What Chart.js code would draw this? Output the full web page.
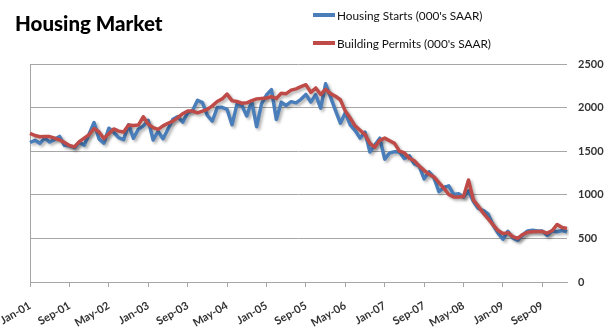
<!DOCTYPE html>
<html>
<head>
<meta charset="utf-8">
<script src="https://cdn.jsdelivr.net/npm/chart.js@4.4.0/dist/chart.umd.min.js"></script>
<style>
  html, body { margin: 0; padding: 0; background: #fff; }
  #wrap { position: relative; width: 610px; height: 331px; }
  #title { position: absolute; left: 15px; top: 11px; font: 900 20.5px Lato, sans-serif; color: #000; }
  #legend { position: absolute; left: 313px; top: 1px; font: 11.8px Lato, sans-serif; color: #111; }
  .item { display: flex; align-items: center; height: 28px; }
  .swatch { width: 22px; height: 4px; margin-right: 2px; }
</style>
</head>
<body>
<div id="wrap">
  <canvas id="chart" width="610" height="331"></canvas>
  <div id="title">Housing Market</div>
  <div id="legend"></div>
</div>
<script>
// monthly, Jan-01 .. Feb-10
var monthNames = ['Jan', 'Feb', 'Mar', 'Apr', 'May', 'Jun', 'Jul', 'Aug', 'Sep', 'Oct', 'Nov', 'Dec'];
var years = ['01', '02', '03', '04', '05', '06', '07', '08', '09', '10'];
var tickEvery = 8;

var housingStarts = [
  1600, 1625, 1590, 1649, 1605, 1636, 1670, 1567, 1562, 1540, 1602, 1568,
  1698, 1829, 1642, 1592, 1764, 1717, 1655, 1633, 1804, 1648, 1753, 1788,
  1853, 1629, 1726, 1643, 1751, 1867, 1897, 1833, 1939, 1967, 2083, 2057,
  1911, 1846, 1998, 2003, 1981, 1803, 2035, 2024, 1905, 2072, 1782, 2042,
  2144, 2207, 1864, 2061, 2025, 2068, 2054, 2095, 2151, 2065, 2147, 1994,
  2273, 2119, 1969, 1821, 1942, 1802, 1737, 1650, 1720, 1491, 1570, 1649,
  1409, 1480, 1495, 1490, 1415, 1448, 1354, 1330, 1183, 1264, 1197, 1037,
  1084, 1103, 1005, 1013, 973, 1046, 923, 844, 820, 777, 652, 560,
  490, 582, 505, 478, 540, 585, 594, 586, 585, 534, 588, 576,
  591, 575
];

var buildingPermits = [
  1705, 1680, 1665, 1670, 1668, 1650, 1630, 1600, 1565, 1550, 1610, 1650,
  1690, 1760, 1720, 1645, 1700, 1755, 1730, 1720, 1800, 1795, 1800, 1895,
  1810, 1770, 1750, 1790, 1820, 1845, 1885, 1930, 1960, 1960, 1940, 1960,
  1980, 2020, 2070, 2100, 2155, 2080, 2070, 2050, 2055, 2080, 2100, 2105,
  2110, 2125, 2105, 2165, 2160, 2200, 2215, 2240, 2263, 2175, 2225, 2150,
  2210, 2160, 2130, 2090, 1960, 1880, 1790, 1740, 1690, 1590, 1545, 1625,
  1650, 1620, 1590, 1500, 1480, 1420, 1390, 1330, 1280, 1235, 1205, 1140,
  1075, 1005, 975, 975, 980, 1170, 940, 870, 790, 725, 655, 590,
  555, 565, 520, 500, 545, 570, 575, 580, 578, 560, 590, 660,
  625, 615
];

var months = [];
for (var i = 0; i < housingStarts.length; i++) {
  months.push(monthNames[i % 12] + '-' + years[Math.floor(i / 12)]);
}

var axisFont = { family: 'Lato', weight: 'bold', size: 11 };
var gridGray = '#a6a6a6';

// soft drop shadow under the lines, like the Excel original
var lineShadow = {
  id: 'lineShadow',
  beforeDatasetDraw: function(chart) {
    var ctx = chart.ctx;
    ctx.save();
    ctx.shadowColor = 'rgba(0,0,0,0.3)';
    ctx.shadowBlur = 3;
    ctx.shadowOffsetX = 2;
    ctx.shadowOffsetY = 2;
  },
  afterDatasetDraw: function(chart) {
    chart.ctx.restore();
  }
};

var chart = new Chart(document.getElementById('chart'), {
  type: 'line',
  data: {
    labels: months,
    datasets: [{
      label: "Housing Starts (000's SAAR)",
      data: housingStarts,
      borderColor: '#4a7ebb',
      order: 2
    }, {
      label: "Building Permits (000's SAAR)",
      data: buildingPermits,
      borderColor: '#be4b48',
      order: 1
    }]
  },
  options: {
    responsive: false,
    animation: false,
    devicePixelRatio: 1,
    elements: {
      point: { radius: 0 },
      line: { borderWidth: 3.5, tension: 0, borderJoinStyle: 'round', fill: false }
    },
    layout: { padding: { top: 64, right: 0, bottom: 0, left: 30 } },
    plugins: {
      legend: { display: false },
      tooltip: { enabled: false }
    },
    scales: {
      x: {
        offset: false,
        grid: {
          color: function(c) { return c.index === 0 ? gridGray : 'transparent'; },
          tickColor: gridGray,
          tickLength: 5
        },
        border: { color: gridGray },
        ticks: {
          autoSkip: false,
          minRotation: 30,
          maxRotation: 30,
          padding: 12,
          color: '#333',
          font: axisFont,
          callback: function(v, i) {
            return i % tickEvery === 0 ? this.getLabelForValue(v) : null;
          }
        },
        afterFit: function(scale) {
          scale.height = 49;
          scale.paddingLeft = 0;
          scale.paddingRight = 0;
        }
      },
      y: {
        position: 'right',
        min: 0,
        max: 2500,
        grid: { color: gridGray, drawTicks: false },
        border: { display: false },
        ticks: {
          stepSize: 500,
          padding: 11,
          color: '#333',
          font: axisFont,
          callback: function(v) { return String(v); }
        },
        afterFit: function(scale) { scale.width = 43; }
      }
    }
  },
  plugins: [lineShadow]
});

// legend stacked in two rows, top right
var legend = document.getElementById('legend');
chart.data.datasets.forEach(function(ds) {
  var row = document.createElement('div');
  row.className = 'item';
  var sw = document.createElement('span');
  sw.className = 'swatch';
  sw.style.background = ds.borderColor;
  var txt = document.createElement('span');
  txt.textContent = ds.label;
  row.appendChild(sw);
  row.appendChild(txt);
  legend.appendChild(row);
});
</script>
</body>
</html>
